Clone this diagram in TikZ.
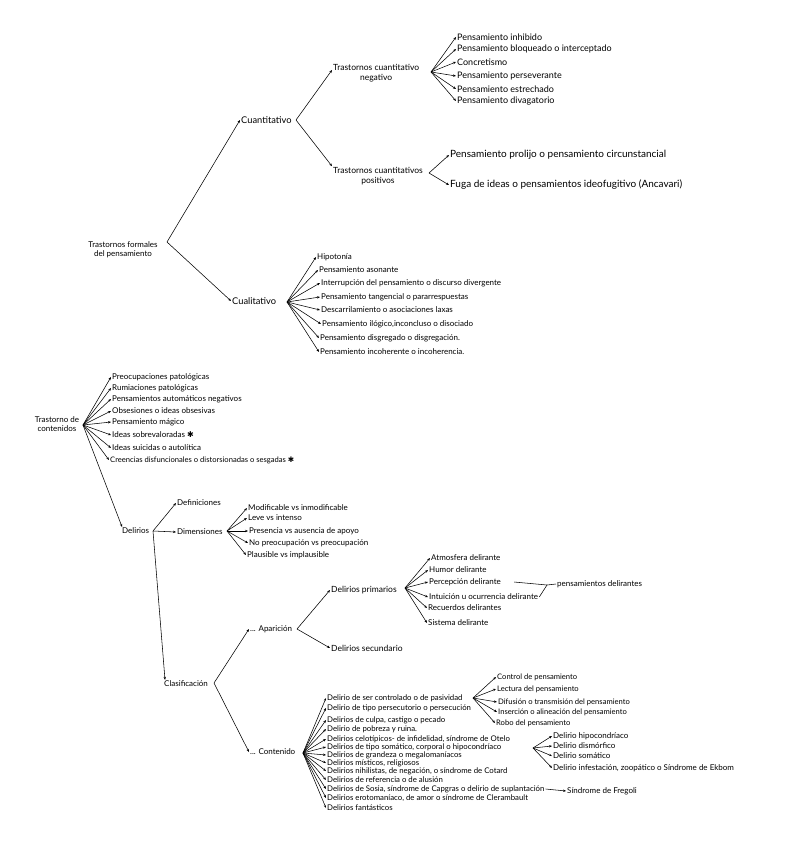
\documentclass[tikz,border=0pt]{standalone}
\usepackage{fontspec}
\setmainfont{Lato}
\newfontfamily\symbfont{DejaVu Sans}
\usetikzlibrary{arrows.meta}

\begin{document}
\begin{tikzpicture}[x=1pt,y=-1pt,
	every node/.style={inner sep=1pt,font=\fontsize{8}{9}\selectfont},
	item/.style={anchor=west},
	headtext/.style={font=\fontsize{9.3}{10}\selectfont},
	midtext/.style={font=\fontsize{8.5}{9.5}\selectfont},
	negtext/.style={font=\fontsize{9}{10}\selectfont},
	bigtext/.style={font=\fontsize{10}{11}\selectfont},
	smalltext/.style={font=\fontsize{7.8}{8}\selectfont},
	pastext/.style={font=\fontsize{7.6}{8}\selectfont},
	arr/.style={-{Stealth[length=3pt,width=2.4pt]},line width=0.55pt}]
	\useasboundingbox[fill=white] (0,0) rectangle (793,848);
	% trastornos formales del pensamiento
	\node[align=center] (tfp) at (123,250) {Trastornos formales\\del pensamiento};
	\coordinate (tfpb) at (167,242);
	\node[item,headtext] (cuant) at (240,120) {Cuantitativo};
	\node[item,headtext] (cual) at (231,301) {Cualitativo};
	\draw[arr] (tfpb) -- (cuant.west);
	\draw[arr] (tfpb) -- (cual.west);
	\coordinate (cuantb) at (296,120);
	\node[item,midtext,align=center] (neg) at (332,73) {Trastornos cuantitativo\\negativo};
	\node[item,midtext,align=center] (pos) at (332,176) {Trastornos cuantitativos\\positivos};
	\draw[arr] (cuantb) -- ([yshift=3pt]neg.west);
	\draw[arr] (cuantb) -- (pos.north west);
	% cuantitativo negativo
	\coordinate (negb) at (431,72);
	\node[item,negtext] (inhi) at (456,37) {Pensamiento inhibido};
	\node[item,negtext] (bloq) at (456,49) {Pensamiento bloqueado o interceptado};
	\node[item,negtext] (conc) at (456,62) {Concretismo};
	\node[item,negtext] (pers) at (456,76) {Pensamiento perseverante};
	\node[item,negtext] (estr) at (456,89) {Pensamiento estrechado};
	\node[item,negtext] (diva) at (456,101) {Pensamiento divagatorio};
	\draw[arr] (negb) -- (inhi.west);
	\draw[arr] (negb) -- (bloq.west);
	\draw[arr] (negb) -- (conc.west);
	\draw[arr] (negb) -- (pers.west);
	\draw[arr] (negb) -- (estr.west);
	\draw[arr] (negb) -- (diva.west);
	% cuantitativo positivo
	\coordinate (posb) at (429,173);
	\node[item,bigtext] (prol) at (449,155) {Pensamiento prolijo o pensamiento circunstancial};
	\node[item,bigtext] (fuga) at (449,185) {Fuga de ideas o pensamientos ideofugitivo (Ancavari)};
	\draw[arr] (posb) -- (prol.west);
	\draw[arr] (posb) -- (fuga.west);
	% cualitativo
	\coordinate (cualb) at (287,302);
	\node[item] (hipo) at (316,257) {Hipotonía};
	\node[item] (ason) at (318,270) {Pensamiento asonante};
	\node[item] (inte) at (320,283) {Interrupción del pensamiento o discurso divergente};
	\node[item] (tang) at (320,297) {Pensamiento tangencial o pararrespuestas};
	\node[item] (desc) at (320,310) {Descarrilamiento o asociaciones laxas};
	\node[item] (ilog) at (321,324) {Pensamiento ilógico,inconcluso o disociado};
	\node[item] (disg) at (319,338) {Pensamiento disgregado o disgregación.};
	\node[item] (inco) at (319,352) {Pensamiento incoherente o incoherencia.};
	\draw[arr] (cualb) -- (hipo.west);
	\draw[arr] (cualb) -- (ason.west);
	\draw[arr] (cualb) -- (inte.west);
	\draw[arr] (cualb) -- (tang.west);
	\draw[arr] (cualb) -- (desc.west);
	\draw[arr] (cualb) -- (ilog.west);
	\draw[arr] (cualb) -- (disg.west);
	\draw[arr] (cualb) -- (inco.west);
	% trastorno de contenidos
	\node[align=center] (tdc) at (57,424) {Trastorno de\\contenidos};
	\coordinate (tdcb) at (83,425);
	\node[item] (preo) at (111,377) {Preocupaciones patológicas};
	\node[item] (rumi) at (111,388) {Rumiaciones patológicas};
	\node[item] (auto) at (111,399) {Pensamientos automáticos negativos};
	\node[item] (obse) at (111,411) {Obsesiones o ideas obsesivas};
	\node[item] (magi) at (111,422) {Pensamiento mágico};
	\node[item] (sobr) at (111,435) {Ideas sobrevaloradas {\symbfont ✱}};
	\node[item] (suic) at (111,448) {Ideas suicidas o autolítica};
	\node[item,pastext] (cree) at (109,460) {Creencias disfuncionales o distorsionadas o sesgadas {\symbfont ✱}};
	\draw[arr] (tdcb) -- (preo.west);
	\draw[arr] (tdcb) -- (rumi.west);
	\draw[arr] (tdcb) -- (auto.west);
	\draw[arr] (tdcb) -- (obse.west);
	\draw[arr] (tdcb) -- (magi.west);
	\draw[arr] (tdcb) -- (sobr.west);
	\draw[arr] (tdcb) -- (suic.west);
	\draw[arr] (tdcb) -- (cree.west);
	% delirios
	\node[item] (del) at (121,531) {Delirios};
	\draw[arr] (tdcb) -- ([xshift=1pt]del.north west);
	\coordinate (delb) at (153,531);
	\node[item] (defi) at (176,503) {Definiciones};
	\node[item] (dime) at (176,532) {Dimensiones};
	\draw[arr] (delb) -- (defi.west);
	\draw[arr] (delb) -- (dime.west);
	\coordinate (dimb) at (227,531);
	\node[item] (modi) at (247,508) {Modificable vs inmodificable};
	\node[item] (leve) at (247,518) {Leve vs intenso};
	\node[item] (pres) at (248,531) {Presencia vs ausencia de apoyo};
	\node[item] (npre) at (248,543) {No preocupación vs preocupación};
	\node[item] (plau) at (246,555) {Plausible vs implausible};
	\draw[arr] (dimb) -- (modi.west);
	\draw[arr] (dimb) -- (leve.west);
	\draw[arr] (dimb) -- (pres.west);
	\draw[arr] (dimb) -- (npre.west);
	\draw[arr] (dimb) -- (plau.west);
	% clasificacion
	\node[item] (clas) at (163,684) {Clasificación};
	\draw[arr] (delb) -- ([xshift=2pt]clas.north west);
	\coordinate (clasb) at (214,683);
	\node[item] (apar) at (249,629) {... Aparición};
	\node[item] (cont) at (249,752) {... Contenido};
	\draw[arr] (clasb) -- (apar.west);
	\draw[arr] (clasb) -- (cont.west);
	% aparicion
	\coordinate (aparb) at (297,629);
	\node[item,midtext] (prim) at (330,590) {Delirios primarios};
	\node[item,midtext] (secu) at (330,648) {Delirios secundario};
	\draw[arr] (aparb) -- (prim.west);
	\draw[arr] (aparb) -- (secu.west);
	\coordinate (primb) at (405,588);
	\node[item] (atmo) at (430,558) {Atmosfera delirante};
	\node[item] (humo) at (428,570) {Humor delirante};
	\node[item] (perc) at (428,582) {Percepción delirante};
	\node[item] (intu) at (428,597) {Intuición u ocurrencia delirante};
	\node[item] (recu) at (427,608) {Recuerdos delirantes};
	\node[item] (sist) at (427,623) {Sistema delirante};
	\draw[arr] (primb) -- (atmo.west);
	\draw[arr] (primb) -- (humo.west);
	\draw[arr] (primb) -- (perc.west);
	\draw[arr] (primb) -- (intu.west);
	\draw[arr] (primb) -- (recu.west);
	\draw[arr] (primb) -- (sist.west);
	\node[item] (pdel) at (556,584) {pensamientos delirantes};
	\coordinate (pdelj) at (547,585);
	\draw[line width=0.55pt] ([xshift=12pt]perc.east) -- (pdelj);
	\draw[line width=0.55pt] (intu.east) -- (pdelj) -- (pdel.west);
	% contenido
	\coordinate (contb) at (303,753);
	\node[item,smalltext] (ctrl) at (326,698) {Delirio de ser controlado o de pasividad};
	\node[item,smalltext] (perse) at (326,708) {Delirio de tipo persecutorio o persecución};
	\node[item,smalltext] (culp) at (326,720) {Delirios de culpa, castigo o pecado};
	\node[item,smalltext] (pobr) at (326,729) {Delirio de pobreza y ruina.};
	\node[item,smalltext] (celo) at (326,739) {Delirios celotípicos- de infidelidad, síndrome de Otelo};
	\node[item,smalltext] (soma) at (326,747) {Delirios de tipo somático, corporal o hipocondríaco};
	\node[item,smalltext] (gran) at (326,755) {Delirios de grandeza o megalomaníacos};
	\node[item,smalltext] (mist) at (326,763) {Delirios místicos, religiosos};
	\node[item,smalltext] (nihi) at (326,771) {Delirios nihilistas, de negación, o síndrome de Cotard};
	\node[item,smalltext] (refe) at (326,780) {Delirios de referencia o de alusión};
	\node[item,smalltext] (sosi) at (326,789) {Delirios de Sosia, síndrome de Capgras o delirio de suplantación};
	\node[item,smalltext] (erot) at (326,798) {Delirios erotomaníaco, de amor o síndrome de Clerambault};
	\node[item,smalltext] (fant) at (326,808) {Delirios fantásticos};
	\draw[arr] (contb) -- (ctrl.west);
	\draw[arr] (contb) -- (perse.west);
	\draw[arr] (contb) -- (culp.west);
	\draw[arr] (contb) -- (pobr.west);
	\draw[arr] (contb) -- (celo.west);
	\draw[arr] (contb) -- (soma.west);
	\draw[arr] (contb) -- (gran.west);
	\draw[arr] (contb) -- (mist.west);
	\draw[arr] (contb) -- (nihi.west);
	\draw[arr] (contb) -- (refe.west);
	\draw[arr] (contb) -- (sosi.west);
	\draw[arr] (contb) -- (erot.west);
	\draw[arr] (contb) -- (fant.west);
	% pasividad
	\coordinate (pasb) at (473,698);
	\node[item,pastext] (pctr) at (496,677) {Control de pensamiento};
	\node[item,pastext] (plec) at (496,689) {Lectura del pensamiento};
	\node[item,pastext] (pdif) at (497,702) {Difusión o transmisión del pensamiento};
	\node[item,pastext] (pins) at (497,712) {Inserción o alineación del pensamiento};
	\node[item,pastext] (prob) at (495,723) {Robo del pensamiento};
	\draw[arr] (pasb) -- (pctr.west);
	\draw[arr] (pasb) -- (plec.west);
	\draw[arr] (pasb) -- (pdif.west);
	\draw[arr] (pasb) -- (pins.west);
	\draw[arr] (pasb) -- (prob.west);
	% somatico
	\coordinate (somb) at (533,748);
	\node[item] (ship) at (552,736) {Delirio hipocondríaco};
	\node[item] (sdis) at (552,746) {Delirio dismórfico};
	\node[item] (ssom) at (552,756) {Delirio somático};
	\node[item] (sinf) at (552,768) {Delirio infestación, zoopático o Síndrome de Ekbom};
	\draw[arr] (somb) -- (ship.west);
	\draw[arr] (somb) -- (sdis.west);
	\draw[arr] (somb) -- (ssom.west);
	\draw[arr] (somb) -- (sinf.west);
	\node[item] (freg) at (566,791) {Síndrome de Fregoli};
	\draw[arr] (sosi.east) -- (freg.west);
\end{tikzpicture}
\end{document}
